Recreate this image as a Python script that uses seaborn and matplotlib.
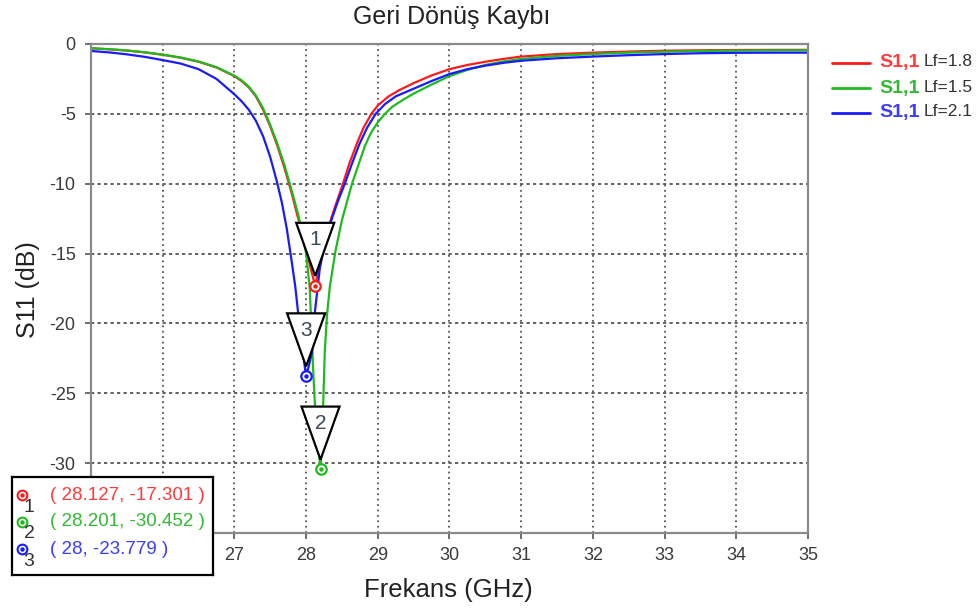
import pandas as pd
import seaborn as sns
import matplotlib
matplotlib.use("Agg")
import matplotlib.pyplot as plt
from matplotlib.patches import Polygon

sns.set_style("white")
plt.rcParams["font.family"] = ["Liberation Sans", "DejaVu Sans"]
plt.rcParams["axes.unicode_minus"] = False

# S11 curves (GHz, dB)
freq_red = [25.0, 25.25, 25.5, 25.75, 26.0, 26.25, 26.5, 26.75, 27.0, 27.1, 27.2, 27.3,
            27.4, 27.5, 27.6, 27.7, 27.8, 27.9, 28.0, 28.07, 28.127, 28.18, 28.25, 28.33,
            28.42, 28.52, 28.6, 28.71, 28.8, 28.91, 29.0, 29.15, 29.3, 29.5, 29.75, 30.0,
            30.25, 30.5, 30.75, 31.0, 31.5, 32.0, 32.5, 33.0, 33.5, 34.0, 34.5, 35.0]
s11_red = [-0.31, -0.38, -0.47, -0.6, -0.77, -0.98, -1.27, -1.68, -2.3, -2.65, -3.1, -3.75,
           -4.7, -5.9, -7.3, -8.9, -10.7, -12.7, -14.6, -16.2, -17.301, -16.0, -14.4, -12.8,
           -11.4, -9.9, -8.6, -7.1, -6.0, -5.0, -4.4, -3.75, -3.3, -2.8, -2.25, -1.8,
           -1.5, -1.27, -1.07, -0.9, -0.72, -0.62, -0.54, -0.48, -0.45, -0.43, -0.42, -0.42]

freq_green = [25.0, 25.25, 25.5, 25.75, 26.0, 26.25, 26.5, 26.75, 27.0, 27.1, 27.2, 27.3,
              27.4, 27.5, 27.6, 27.7, 27.8, 27.9, 28.0, 28.05, 28.08, 28.1, 28.12, 28.16,
              28.201, 28.22, 28.24, 28.26, 28.29, 28.33, 28.41, 28.5, 28.64, 28.72, 28.82,
              28.9, 29.0, 29.1, 29.2, 29.35, 29.5, 29.75, 30.0, 30.25, 30.5, 30.75, 31.0,
              31.5, 32.0, 32.5, 33.0, 33.5, 34.0, 34.5, 35.0]
s11_green = [-0.3, -0.37, -0.46, -0.59, -0.76, -0.97, -1.25, -1.66, -2.27, -2.6, -3.05, -3.7,
             -4.6, -5.8, -7.15, -8.7, -10.5, -12.4, -15.0, -17.4, -21.0, -23.5, -25.5, -28.3,
             -30.452, -28.1, -25.5, -22.1, -19.5, -17.4, -14.8, -12.6, -10.0, -8.8, -7.3,
             -6.4, -5.6, -5.0, -4.5, -4.0, -3.55, -2.9, -2.3, -1.85, -1.5, -1.25, -1.07,
             -0.85, -0.72, -0.62, -0.55, -0.5, -0.47, -0.45, -0.45]

freq_blue = [25.0, 25.25, 25.5, 25.75, 26.0, 26.25, 26.5, 26.75, 27.0, 27.1, 27.2, 27.3,
             27.4, 27.5, 27.59, 27.66, 27.73, 27.8, 27.85, 27.89, 27.95, 28.0, 28.04, 28.08,
             28.12, 28.19, 28.26, 28.34, 28.44, 28.54, 28.63, 28.74, 28.85, 28.97, 29.1,
             29.25, 29.5, 29.75, 30.0, 30.25, 30.5, 30.75, 31.0, 31.5, 32.0, 32.5, 33.0,
             33.5, 34.0, 34.5, 35.0]
s11_blue = [-0.5, -0.6, -0.74, -0.92, -1.15, -1.4, -1.8, -2.5, -3.6, -4.1, -4.7, -5.5,
            -6.6, -8.1, -9.8, -11.3, -13.2, -15.6, -17.4, -19.3, -21.9, -23.779, -23.0, -22.1,
            -19.3, -16.1, -14.3, -12.8, -11.3, -10.0, -8.7, -7.2, -6.0, -5.0, -4.3,
            -3.75, -3.2, -2.65, -2.15, -1.8, -1.55, -1.35, -1.2, -1.02, -0.9, -0.8, -0.72,
            -0.66, -0.63, -0.62, -0.62]

series_labels = ["Lf=1.8", "Lf=1.5", "Lf=2.1"]
colors = ["#ff1a1a", "#1dbb1d", "#1a1aff"]
text_colors = ["#ff3b3b", "#33b833", "#3b3bff"]

marker_ids = ["1", "2", "3"]
marker_freq = [28.127, 28.201, 28.0]
marker_s11 = [-17.301, -30.452, -23.779]

frames = []
for lab, f, s in zip(series_labels, [freq_red, freq_green, freq_blue],
                     [s11_red, s11_green, s11_blue]):
    frames.append(pd.DataFrame({"freq": f, "s11": s, "series": lab}))
df = pd.concat(frames, ignore_index=True)

fig = plt.figure(figsize=(9.79, 6.12), dpi=100)
ax = fig.add_axes([91 / 979, 1 - 533 / 612, 717 / 979, 489 / 612])

sns.lineplot(data=df, x="freq", y="s11", hue="series", hue_order=series_labels,
             palette=dict(zip(series_labels, colors)), sort=False, linewidth=1.6,
             legend=False, ax=ax, zorder=2)

ax.set_xlim(25, 35)
ax.set_ylim(-35, 0)
xt = list(range(25, 36))
yt = list(range(-35, 1, 5))
ax.set_xticks(xt)
ax.set_yticks(yt)
# 25, 26 and -35 sit under the marker box in the reference
ax.set_xticklabels(["" if v < 27 else str(v) for v in xt])
ax.set_yticklabels(["" if v == -35 else str(v) for v in yt])
ax.set_xlabel("")
ax.set_ylabel("")
for x in range(26, 35):
    ax.axvline(x, color="#555555", lw=1.3, ls=(0, (1, 2)), zorder=1)
for y in range(-30, 0, 5):
    ax.axhline(y, color="#555555", lw=1.3, ls=(0, (1.8, 1.8)), zorder=1)
for sp in ax.spines.values():
    sp.set_color("#8a8a8a")
    sp.set_linewidth(1.6)
ax.tick_params(axis="both", direction="out", length=4, width=1.2, color="#555555",
               labelsize=13, labelcolor="#3a3a3a", left=True, bottom=True)
ax.tick_params(axis="y", pad=7)
ax.tick_params(axis="x", pad=6)

# marker triangles and circles
for i in range(3):
    fx, fy = marker_freq[i], marker_s11[i]
    tri = Polygon([[fx - 0.265, fy + 4.5], [fx + 0.265, fy + 4.5], [fx, fy + 0.7]],
                  closed=True, facecolor="white", edgecolor="black", lw=1.6, zorder=4)
    ax.add_patch(tri)
    ax.text(fx, fy + 3.3, marker_ids[i], ha="center", va="center", fontsize=15,
            color="#3c4655", zorder=5)
    ax.plot(fx, fy, marker="o", ms=7.5, mfc="white", mec=colors[i], mew=1.6, zorder=6)
    ax.plot(fx, fy, marker="o", ms=2.2, color=colors[i], zorder=7)

# marker value box
bax = fig.add_axes([12 / 979, 1 - 575 / 612, 201 / 979, 98 / 612])
bax.set_xlim(0, 201)
bax.set_ylim(98, 0)
bax.set_xticks([])
bax.set_yticks([])
bax.set_facecolor("white")
for sp in bax.spines.values():
    sp.set_color("black")
    sp.set_linewidth(1.6)
row_y = [18, 45, 72]
for i in range(3):
    bax.plot(10, row_y[i], marker="o", ms=7, mfc="white", mec=colors[i], mew=1.5)
    bax.plot(10, row_y[i], marker="o", ms=2.2, color=colors[i])
    bax.text(17, row_y[i] + 12, marker_ids[i], ha="center", va="center", fontsize=14,
             color="#333333")
    bax.text(38, row_y[i], f"( {marker_freq[i]:g}, {marker_s11[i]:g} )", ha="left",
             va="center", fontsize=13.5, color=text_colors[i])

# legend at top right
lax = fig.add_axes([825 / 979, 1 - 125 / 612, 154 / 979, 75 / 612])
lax.set_xlim(825, 979)
lax.set_ylim(125, 50)
lax.axis("off")
leg_y = [63, 88, 113]
for i in range(3):
    lax.plot([832, 870], [leg_y[i], leg_y[i]], color=colors[i], lw=2)
    lax.text(879, leg_y[i], "S1,1", ha="left", va="center", fontsize=14,
             fontweight="bold", color=text_colors[i])
    lax.text(924, leg_y[i] - 1, series_labels[i], ha="left", va="center", fontsize=12.5,
             color="#333333")

fig.text(452 / 979, 1 - 17 / 612, "Geri Dönüş Kaybı", ha="center", va="center",
         fontsize=18, color="#222222")
fig.text(448 / 979, 1 - 590 / 612, "Frekans (GHz)", ha="center", va="center",
         fontsize=18.5, color="#222222")
fig.text(28 / 979, 1 - 290 / 612, "S11 (dB)", ha="center", va="center", rotation=90,
         fontsize=18, color="#222222")

fig.savefig("out.png", dpi=100)
